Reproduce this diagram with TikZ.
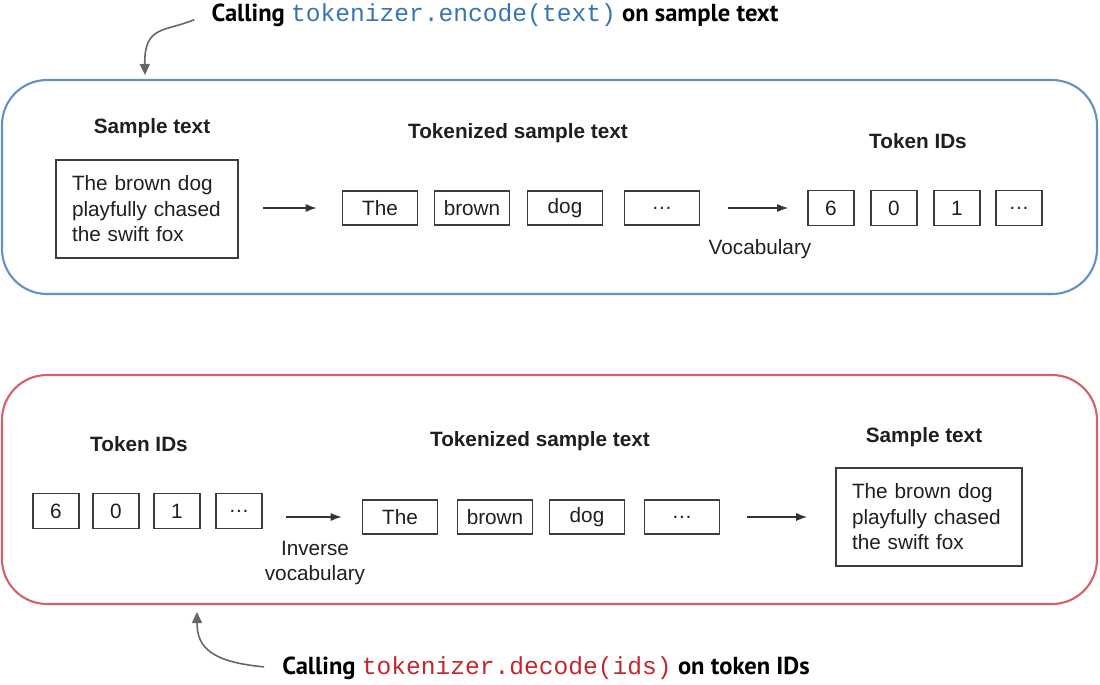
\documentclass[tikz,border=0pt]{standalone}
\usepackage{fontspec}
\setmainfont{Liberation Sans}
\setmonofont{Liberation Mono}
\newfontfamily\capfont{PT Sans}
\usepackage{xcolor}
\usepackage{tikz}
\usetikzlibrary{arrows.meta,positioning}

\definecolor{encline}{RGB}{98,145,196}
\definecolor{enccode}{RGB}{52,118,178}
\definecolor{decline}{RGB}{212,98,106}
\definecolor{deccode}{RGB}{193,39,45}
\definecolor{boxline}{RGB}{60,60,60}

\newcommand{\codetxt}[2]{{\mdseries\ttfamily\color{#1}#2}}

\begin{document}
\begin{tikzpicture}[x=0.02cm,y=-0.02cm,
    every node/.style={font=\fontsize{11.8}{14.5}\selectfont, text=black!88},
    lbl/.style={font=\fontsize{11.8}{14.5}\selectfont\bfseries},
    tok/.style={draw=boxline, line width=0.9pt, minimum width=1.5cm, minimum height=0.68cm, inner sep=0pt},
    idbox/.style={tok, minimum width=0.92cm, minimum height=0.7cm},
    txtbox/.style={draw=boxline, line width=0.9pt, align=left, inner xsep=0.32cm, minimum height=1.95cm},
    arr/.style={-{Latex[length=2.2mm,width=1.6mm]}, line width=0.8pt, draw=black!80},
    callout/.style={-{Triangle[length=2.2mm,width=2mm]}, line width=0.9pt, draw=black!60},
    capt/.style={font=\capfont\fontsize{14}{16}\selectfont\bfseries, text=black}]
\useasboundingbox (0,0) rectangle (1100,684);

    % Encode
    \draw[encline, line width=1.2pt, rounded corners=0.9cm] (2,80) rectangle (1097,294);
    \node[capt] (enc) at (495,15) {Calling \codetxt{enccode}{tokenizer.encode(text)} on sample text};
    \coordinate (encTip) at (145,75);
    \draw[callout, shorten <=0.24cm] (enc.west) .. controls (165,32) and (144,25) .. (encTip);

    \node[lbl] (encSrcLbl) at (152,128) {Sample text};
    \node[txtbox, text width=3.0cm] (encSrc) at (147,209) {The brown dog\\playfully chased\\the swift fox};

    \node[lbl] (encTokLbl) at (518,133) {Tokenized sample text};
    \node[tok] (encT1) at (380,208) {The};
    \node[tok] (encT2) at (472,208) {brown};
    \node[tok] (encT3) at (565,208) {dog};
    \node[tok] (encT4) at (662,208) {…};

    \node[lbl] (encIdLbl) at (918,141) {Token IDs};
    \node[idbox] (encI1) at (831,208) {6};
    \node[idbox] (encI2) at (894,208) {0};
    \node[idbox] (encI3) at (957,208) {1};
    \node[idbox] (encI4) at (1019,208) {…};
    \node (vocab) at (760,249) {Vocabulary};

    \draw[arr, shorten <=0.48cm, shorten >=0.5cm] (encSrc.east |- encT1.west) -- (encT1.west);
    \draw[arr, shorten <=0.56cm, shorten >=0.38cm] (encT4.east) -- (encI1.west);

    % Decode
    \draw[decline, line width=1.2pt, rounded corners=0.9cm] (2,375) rectangle (1097,604);
    \node[capt] (dec) at (546,668) {Calling \codetxt{deccode}{tokenizer.decode(ids)} on token IDs};
    \coordinate (decTip) at (197,612);
    \draw[callout, shorten <=0.24cm] (dec.west) .. controls (212,662) and (197,648) .. (decTip);

    \node[lbl] (decIdLbl) at (139,444) {Token IDs};
    \node[idbox] (decI1) at (56,511) {6};
    \node[idbox] (decI2) at (116,511) {0};
    \node[idbox] (decI3) at (177,511) {1};
    \node[idbox] (decI4) at (239,511) {…};
    \node[align=center] (invVocab) at (315,563) {Inverse\\vocabulary};

    \node[lbl] (decTokLbl) at (540,441) {Tokenized sample text};
    \node[tok] (decT1) at (400,517) {The};
    \node[tok] (decT2) at (495,517) {brown};
    \node[tok] (decT3) at (587,517) {dog};
    \node[tok] (decT4) at (682,517) {…};

    \node[lbl] (decOutLbl) at (924,437) {Sample text};
    \node[txtbox, text width=3.08cm] (decOut) at (929,517) {The brown dog\\playfully chased\\the swift fox};

    \draw[arr, shorten <=0.46cm, shorten >=0.4cm] (decI4.east |- decT1.west) -- (decT1.west);
    \draw[arr, shorten <=0.54cm, shorten >=0.56cm] (decT4.east) -- (decOut.west);
\end{tikzpicture}
\end{document}
